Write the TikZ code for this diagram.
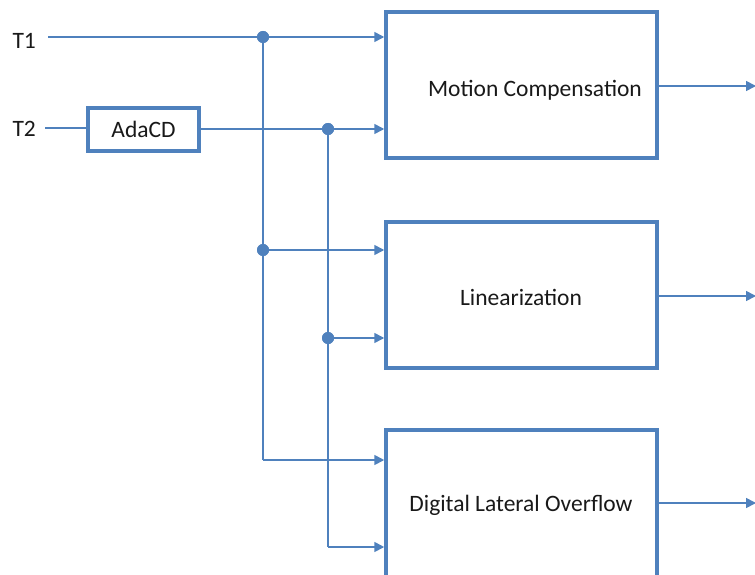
\documentclass[tikz,border=0pt]{standalone}
\usepackage{fontspec}
\setmainfont{Carlito}
\usetikzlibrary{arrows.meta}
\definecolor{bl}{RGB}{79,129,189}
\begin{document}
\begin{tikzpicture}[x=1pt,y=1pt,
  line/.style={draw=bl,line width=1.7pt},
  arr/.style={line,-{Triangle[length=10pt,width=10pt]}},
  box/.style={draw=bl,line width=3.5pt,fill=white,minimum width=271pt,inner sep=0pt},
  dot/.style={circle,fill=bl,inner sep=0pt,minimum size=12pt},
  lbl/.style={font=\fontsize{23.5}{26}\selectfont,text=black!90}]
\useasboundingbox (0,0) rectangle (755,-575);
\clip (0,0) rectangle (755,-575);
\node[lbl,anchor=west] (t1) at (9,-41) {T1};
\node[lbl,anchor=west] (t2) at (9,-129) {T2};
\node[box,minimum width=111pt,minimum height=43pt,lbl] (ada) at (143.5,-129.5) {AdaCD};
\node[box,minimum height=146pt] (b1) at (521.5,-85) {};
\node[lbl] at (535,-90) {Motion Compensation};
\node[box,minimum height=146pt] (b2) at (521.5,-295) {};
\node[lbl] at (521,-297) {Linearization};
\node[box,minimum height=200pt] (b3) at (521.5,-530) {};
\node[lbl] at (521,-505) {Digital Lateral Overflow};
\node[dot] (d1) at (263,-37) {};
\node[dot] (d2) at (263,-250) {};
\node[dot] (d3) at (328,-129) {};
\node[dot] (d4) at (328,-338) {};
\coordinate (c1) at (263,-460);
\coordinate (c2) at (328,-547);
\coordinate (s1) at (48,-37);
\coordinate (s2) at (45,-128);
\coordinate (o1) at (756,-86);
\coordinate (o2) at (756,-296);
\coordinate (o3) at (756,-503);
% lines
\draw[line] (s1) -- (d1.center);
\draw[arr] (d1.center) -- (b1.west |- d1);
\draw[line] (s2) -- (s2 -| ada.west);
\draw[line] (ada.east |- d3) -- (d3.center);
\draw[arr] (d3.center) -- (b1.west |- d3);
\draw[line] (d1.center) -- (c1);
\draw[line] (d3.center) -- (c2);
\draw[arr] (d2.center) -- (b2.west |- d2);
\draw[arr] (d4.center) -- (b2.west |- d4);
\draw[arr] (c1) -- (b3.west |- c1);
\draw[arr] (c2) -- (b3.west |- c2);
\draw[arr] (b1.east |- o1) -- (o1);
\draw[arr] (b2.east |- o2) -- (o2);
\draw[arr] (b3.east |- o3) -- (o3);
\foreach \d in {d1,d2,d3,d4} \node[dot] at (\d) {};
\end{tikzpicture}
\end{document}
